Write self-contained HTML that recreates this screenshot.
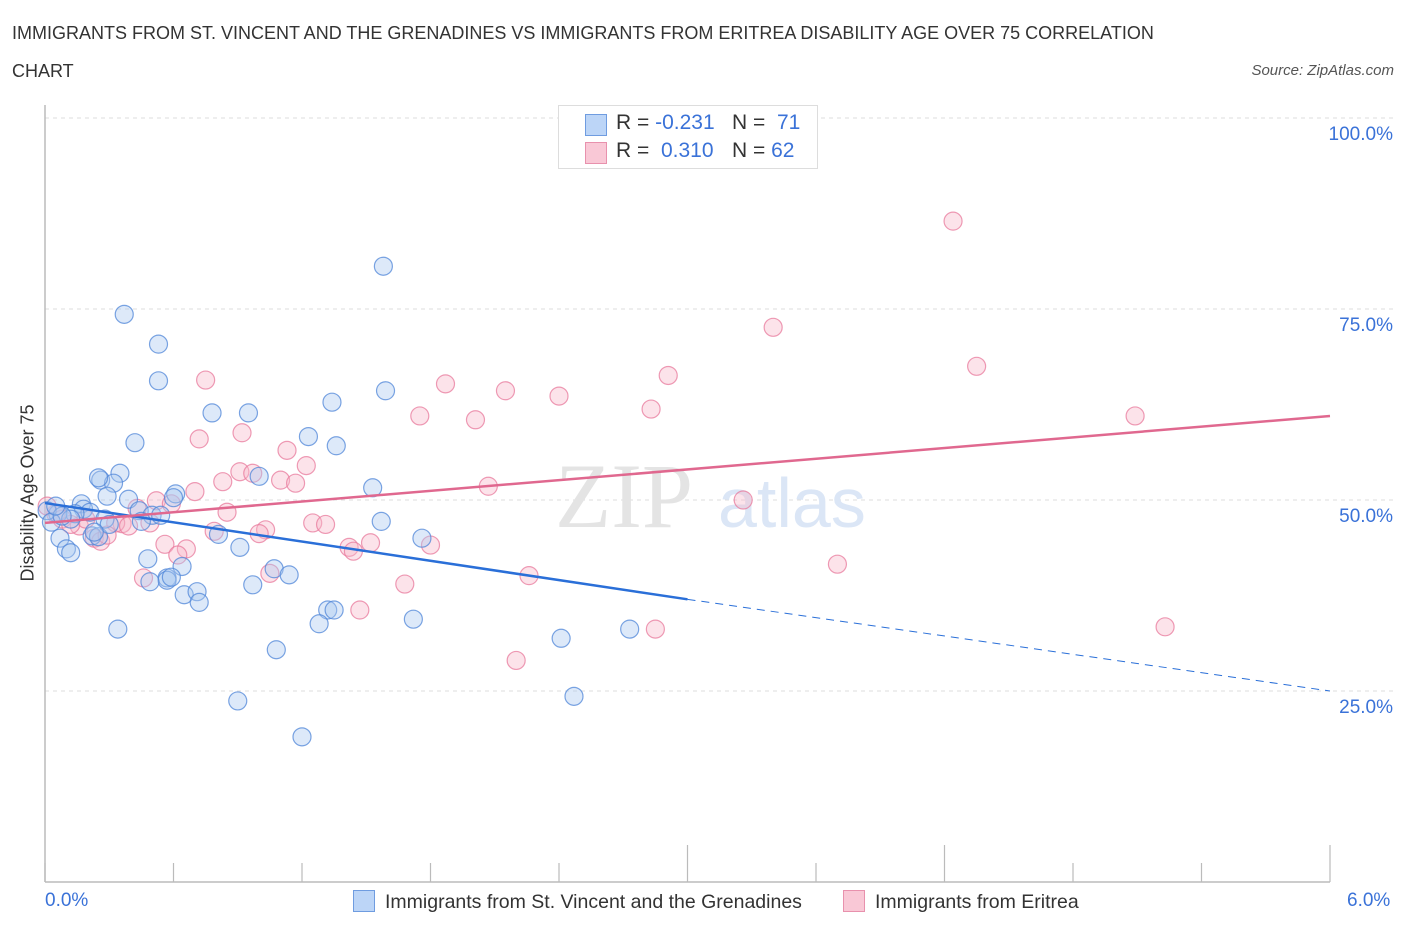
<!DOCTYPE html>
<html><head><meta charset="utf-8">
<style>
body{margin:0;background:#fff;font-family:"Liberation Sans",sans-serif;}
#wrap{position:relative;width:1406px;height:930px;overflow:hidden;}
.t{position:absolute;white-space:nowrap;}
</style></head>
<body>
<div id="wrap">
<div class="t" style="left:12px;top:14px;font-size:18px;color:#333;line-height:38px;width:1200px;white-space:normal">IMMIGRANTS FROM ST. VINCENT AND THE GRENADINES VS IMMIGRANTS FROM ERITREA DISABILITY AGE OVER 75 CORRELATION CHART</div>
<div class="t" style="right:12px;top:62px;font-size:15px;color:#555;font-style:italic">Source: ZipAtlas.com</div>
<svg id="chart" width="1406" height="930" style="position:absolute;left:0;top:0"></svg>
</div>
<script>
const blueX=[0.37,0.53,0.53,1.58,0.78,0.95,1.59,1.34,0.42,1.23,1.36,0.35,0.26,0.32,0.25,1.00,1.53,0.29,0.39,0.61,0.60,0.17,0.44,0.50,0.18,0.21,0.14,0.06,0.01,0.03,0.45,1.57,1.76,0.81,0.07,0.22,0.25,0.10,0.12,0.91,0.48,0.64,1.07,1.14,0.57,0.57,0.59,0.49,0.97,0.65,0.71,1.32,1.35,1.28,1.72,0.34,2.41,2.73,1.08,0.90,2.47,1.20,0.28,0.30,0.12,0.08,0.23,0.05,0.54,0.72];
const blueY=[74.3,70.4,65.6,80.6,61.4,61.4,64.3,62.8,57.5,58.3,57.1,53.5,52.6,52.2,52.9,53.1,51.6,50.5,50.1,50.8,50.3,49.5,48.6,48.0,48.8,48.4,48.2,48.2,48.6,47.1,47.2,47.2,45.0,45.5,45.0,45.3,45.2,43.6,43.1,43.8,42.3,41.3,41.0,40.2,39.8,39.5,39.9,39.3,38.9,37.6,38.0,35.6,35.6,33.8,34.4,33.1,31.9,33.1,30.4,23.7,24.3,19.0,47.5,46.8,47.5,47.9,45.8,49.2,48.0,36.6];
const pinkX=[4.24,3.40,4.35,2.91,0.75,1.87,2.15,2.40,2.83,1.75,2.01,5.09,0.72,0.92,1.13,1.22,0.91,0.97,1.10,1.17,0.83,2.07,0.70,0.52,0.59,3.26,0.85,0.43,0.05,0.08,0.01,1.25,1.31,1.03,1.00,0.79,0.36,0.33,0.39,0.49,0.16,0.23,0.26,0.29,0.56,0.66,0.62,1.42,1.44,1.52,1.80,1.05,0.46,1.68,2.26,1.47,3.70,2.20,2.85,5.23,0.19,0.12];
const pinkY=[86.5,72.6,67.5,66.3,65.7,65.2,64.3,63.6,61.9,61.0,60.5,61.0,58.0,58.8,56.5,54.5,53.7,53.5,52.6,52.2,52.4,51.8,51.1,49.9,49.5,50.0,48.4,48.9,48.2,47.5,49.2,47.0,46.8,46.1,45.6,45.9,46.9,47.0,46.6,47.0,46.6,45.0,44.6,45.4,44.2,43.6,42.8,43.8,43.3,44.4,44.1,40.4,39.8,39.0,40.1,35.6,41.6,29.0,33.1,33.4,47.5,46.8];
const blueTrend=[[0,49.6],[3.0,37.0],[6.0,25.0]];
const pinkTrend=[[0,47.0],[6.0,61.0]];
const yTicks=[25,50,75,100];
const xTicks=[0,0.6,1.2,1.8,2.4,3.0,3.6,4.2,4.8,5.4,6.0];
const X0=45,X1=1330,Y0=882,Ytop=118;
const sx=v=>X0+(X1-X0)*v/6;
const sy=v=>Y0-(Y0-Ytop)*v/100;
const svg=document.getElementById('chart');
const NS='http://www.w3.org/2000/svg';
function mk(tag,attrs){const e=document.createElementNS(NS,tag);for(const k in attrs)e.setAttribute(k,attrs[k]);svg.appendChild(e);return e;}
yTicks.forEach(v=>{
  const g=mk('line',{x1:X0,x2:1395,y1:sy(v),y2:sy(v),stroke:'#ddd','stroke-dasharray':'4,4','stroke-width':1});
  
  
  const t=mk('text',{x:1393,y:sy(v)+22,'text-anchor':'end','font-size':19,fill:'#3a72d8','font-family':'Liberation Sans, sans-serif'});
  t.textContent=v.toFixed(1)+'%';
  
  
});
const ya=mk('line',{x1:X0,x2:X0,y1:105,y2:Y0,stroke:'#bbb','stroke-width':1.5});


const xa=mk('line',{x1:X0,x2:X1,y1:Y0,y2:Y0,stroke:'#bbb','stroke-width':1.5});


xTicks.forEach((v,i)=>{
  const tall=(i==5||i==7||i==10);
  const tk=mk('line',{x1:sx(v),x2:sx(v),y1:tall?845:863,y2:Y0,stroke:'#bbb','stroke-width':1.2});
  
  
});
const wm=mk('text',{x:555,y:527,'font-size':92,fill:'#e4e4e4','font-family':'Liberation Serif, serif'});
wm.textContent='ZIP';


const wm2=mk('text',{x:718,y:527,'font-size':70,fill:'#dbe6f6','font-family':'Liberation Sans, sans-serif'});
wm2.textContent='atlas';


function pts(xs,ys,fill,stroke,name){
  xs.forEach((x,i)=>{
    const c=mk('circle',{cx:sx(x),cy:sy(ys[i]),r:9,fill:fill,'fill-opacity':0.4,stroke:stroke,'stroke-width':1.2,'stroke-opacity':0.75});
    
    
  });
}
pts(pinkX,pinkY,'#f7b8cb','#e8799c','point-eritrea');
pts(blueX,blueY,'#a9c8f0','#4f86d8','point-st-vincent');
const b1=mk('line',{x1:sx(blueTrend[0][0]),y1:sy(blueTrend[0][1]),x2:sx(blueTrend[1][0]),y2:sy(blueTrend[1][1]),stroke:'#2a6fd8','stroke-width':2.5});


const b2=mk('line',{x1:sx(blueTrend[1][0]),y1:sy(blueTrend[1][1]),x2:sx(blueTrend[2][0]),y2:sy(blueTrend[2][1]),stroke:'#2a6fd8','stroke-width':1,'stroke-dasharray':'8,6'});


const p1=mk('line',{x1:sx(pinkTrend[0][0]),y1:sy(pinkTrend[0][1]),x2:sx(pinkTrend[1][0]),y2:sy(pinkTrend[1][1]),stroke:'#e0688f','stroke-width':2.5});


</script>
<div class="t" style="left:28px;top:493px;font-size:18px;color:#333;transform:translate(-50%,-50%) rotate(-90deg);">Disability Age Over 75</div>
<div class="t" style="left:45px;top:890px;font-size:19px;color:#3a72d8">0.0%</div>
<div class="t" style="left:1347px;top:890px;font-size:19px;color:#3a72d8">6.0%</div>
<div style="position:absolute;left:558px;top:105px;width:258px;height:62px;border:1px solid #ddd;background:#fff;font-size:21px;color:#333">
  <div style="position:absolute;left:26px;top:8px;width:20px;height:20px;background:#bcd5f7;border:1px solid #6f9ce0"></div>
  <div class="t" style="left:57px;top:5px">R = <span style="color:#3a72d8">-0.231</span></div>
  <div class="t" style="left:173px;top:5px">N = <span style="color:#3a72d8">&nbsp;71</span></div>
  <div style="position:absolute;left:26px;top:36px;width:20px;height:20px;background:#f9c8d6;border:1px solid #e891ad"></div>
  <div class="t" style="left:57px;top:33px">R = <span style="color:#3a72d8">&nbsp;0.310</span></div>
  <div class="t" style="left:173px;top:33px">N = <span style="color:#3a72d8">62</span></div>
</div>
<div style="position:absolute;left:353px;top:890px;font-size:19.5px;color:#333;white-space:nowrap">
  <span style="display:inline-block;width:20px;height:20px;background:#bcd5f7;border:1px solid #6f9ce0;vertical-align:-4px;margin-right:10px"></span>Immigrants from St. Vincent and the Grenadines</div>
<div style="position:absolute;left:843px;top:890px;font-size:19.5px;color:#333;white-space:nowrap">
  <span style="display:inline-block;width:20px;height:20px;background:#f9c8d6;border:1px solid #e891ad;vertical-align:-4px;margin-right:10px"></span>Immigrants from Eritrea</div>
</body></html>
